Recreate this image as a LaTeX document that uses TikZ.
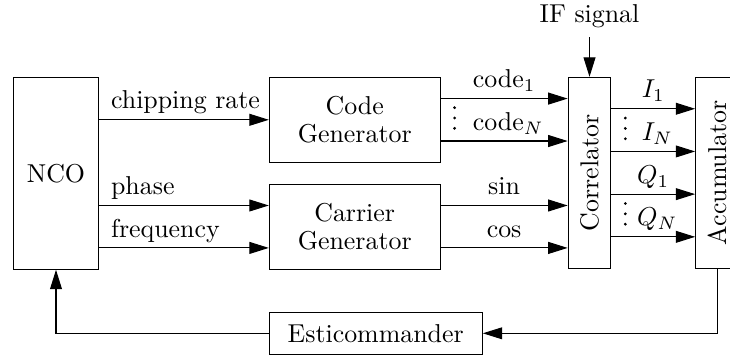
\documentclass[tikz,border=0pt]{standalone}
\usepackage{graphicx}
\usetikzlibrary{arrows.meta}

\tikzset{every picture/.style={line width=0.4pt},
  block/.style={draw, inner sep=0pt, align=center},
  sig/.style={-{Triangle[length=7.5pt,width=4.6pt]}},
  midlab/.style={midway, anchor=base, yshift=4.2pt, inner sep=0pt},
  startlab/.style={pos=0, anchor=base west, xshift=4.4pt, yshift=4.2pt, inner sep=0pt},
  nlab/.style={anchor=base west, inner sep=0pt}
}
% three stacked dots above a connector start
\newcommand{\stackdots}[1]{\foreach \k in {0,1,2} \fill ([xshift=5.4pt,yshift=4.9pt+\k*4pt]#1) circle (0.6pt);}

\begin{document}
\begin{tikzpicture}[x=0.3865pt,y=-0.3865pt]
\clip (0,0) rectangle (730,356);

%Shape: Rectangle [NCO]
\node[block, minimum width=33pt, minimum height=74.2pt] (NCO) at (56,173.3) {NCO};
%Shape: Rectangle [Code Generator]
\node[block, minimum width=66pt, minimum height=32.9pt] (CodeGen) at (354.7,119.8) {Code\\[-1pt]Generator};
%Shape: Rectangle [Carrier Generator]
\node[block, minimum width=66pt, minimum height=32.9pt] (CarrierGen) at (354.7,226.7) {Carrier\\[-1pt]Generator};
%Shape: Rectangle [Correlator]
\node[block, minimum width=16.5pt, minimum height=73.8pt] (Corr) at (589.5,172.8) {\rotatebox{90}{Correlator}};
%Shape: Rectangle [Accumulator]
\node[block, minimum width=16.5pt, minimum height=73.8pt] (Acc) at (717,172.8) {\rotatebox{90}{Accumulator}};
%Shape: Rectangle [Esticommander]
\node[block, minimum width=82.4pt, minimum height=16.4pt] (Esti) at (375.7,333.3) {Esticommander};

% Text Node
\node[anchor=base] (IF) at (589.5,23) {IF signal};

%Straight Lines [IF input]
\draw[sig] (IF.south) -- (Corr.north);

%Straight Lines [NCO outputs]
\coordinate (phase) at ([yshift=8.2pt]CarrierGen.west);
\coordinate (freq) at ([yshift=-8.2pt]CarrierGen.west);
\draw[sig] (NCO.east |- CodeGen.west) -- (CodeGen.west) node[startlab] {chipping rate};
\draw[sig] (NCO.east |- phase) -- (phase) node[startlab] {phase};
\draw[sig] (NCO.east |- freq) -- (freq) node[startlab] {frequency};

%Straight Lines [generator outputs]
\coordinate (code1) at ([yshift=8.2pt]CodeGen.east);
\coordinate (codeN) at ([yshift=-8.2pt]CodeGen.east);
\coordinate (sin) at ([yshift=8.2pt]CarrierGen.east);
\coordinate (cos) at ([yshift=-8.2pt]CarrierGen.east);
\draw[sig] (code1) -- (code1 -| Corr.west) node[midlab] (labCode1) {code$_1$};
\draw[sig] (codeN) -- (codeN -| Corr.west);
\draw[sig] (sin) -- (sin -| Corr.west) node[midlab] {sin};
\draw[sig] (cos) -- (cos -| Corr.west) node[midlab] {cos};
\node[nlab] (labCodeN) at ([yshift=4.2pt]codeN -| labCode1.west) {code$_N$};
\stackdots{codeN}

%Straight Lines [correlator outputs]
\coordinate (I1) at ([yshift=24.75pt]Corr.east);
\coordinate (IN) at ([yshift=8.25pt]Corr.east);
\coordinate (Q1) at ([yshift=-8.25pt]Corr.east);
\coordinate (QN) at ([yshift=-24.75pt]Corr.east);
\draw[sig] (I1) -- (I1 -| Acc.west) node[midlab] (labI1) {$I_1$};
\draw[sig] (IN) -- (IN -| Acc.west);
\draw[sig] (Q1) -- (Q1 -| Acc.west) node[midlab] (labQ1) {$Q_1$};
\draw[sig] (QN) -- (QN -| Acc.west);
\node[nlab] (labIN) at ([yshift=4.2pt]IN -| labI1.west) {$I_N$};
\node[nlab] (labQN) at ([yshift=4.2pt]QN -| labQ1.west) {$Q_N$};
\stackdots{IN}
\stackdots{QN}

%Straight Lines [feedback]
\draw[sig] (Acc.south) |- (Esti.east);
\draw[sig] (Esti.west) -| (NCO.south);

\end{tikzpicture}
\end{document}
